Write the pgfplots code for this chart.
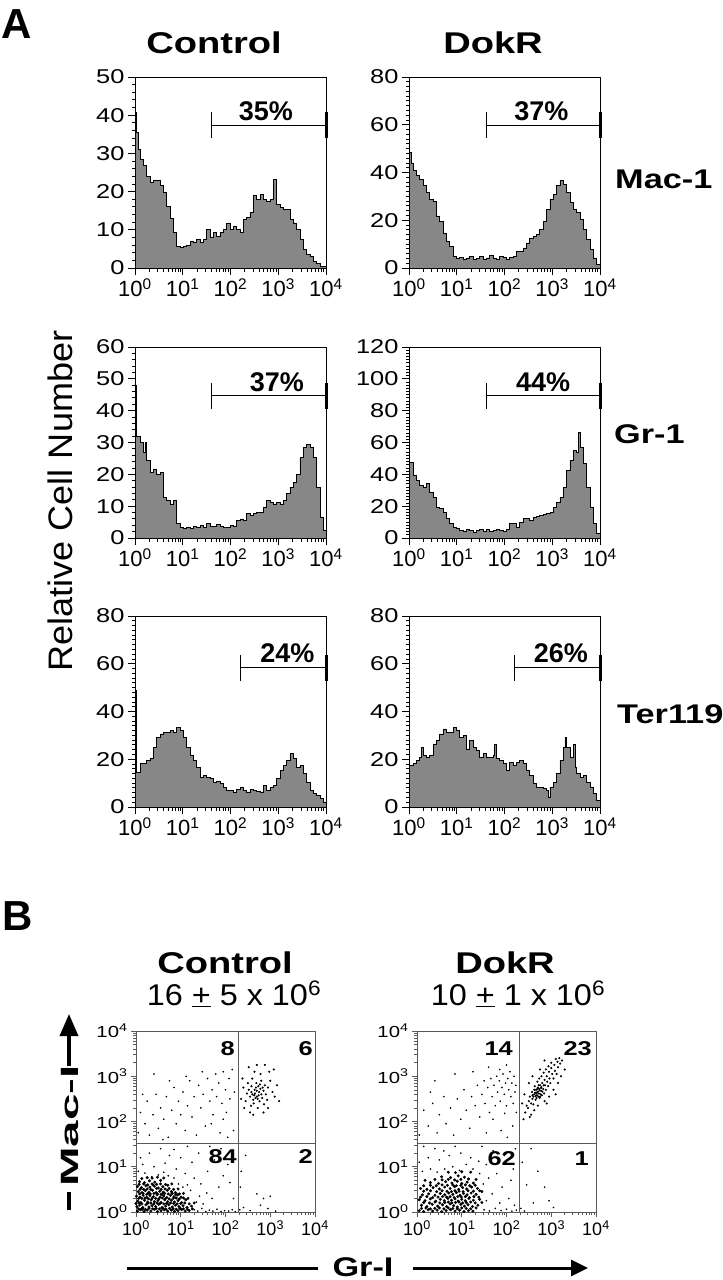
\documentclass[border=0pt]{standalone}
\usepackage{fontspec}
\setmainfont{Liberation Sans}
\newfontfamily\wf{Liberation Sans}[FakeStretch=1.27]
\usepackage{pgfplots}
\pgfplotsset{compat=1.18}
\usepackage{pgfplotstable}
\usetikzlibrary{arrows.meta}
\newcommand\fs[1]{\fontsize{#1}{#1}\selectfont}
\definecolor{histgray}{RGB}{135,135,135}
\definecolor{qgray}{RGB}{90,90,90}

% Control Mac-1
\pgfplotstableread[row sep=\\]{d n\\
0 40.8\\ 0.02 35.5\\ 0.07 31\\ 0.105 28.5\\ 0.175 26.8\\ 0.244 24\\ 0.314 22.4\\ 0.384 23\\ 0.454 23\\ 0.524 21.5\\
0.593 19.7\\ 0.663 16\\ 0.733 13\\ 0.803 9.2\\ 0.873 5.7\\ 0.942 5.3\\ 1.012 5.7\\ 1.082 6\\ 1.152 7\\ 1.222 6.6\\
1.291 7.5\\ 1.361 6.6\\ 1.431 7.5\\ 1.501 10\\ 1.571 7.9\\ 1.641 9.2\\ 1.710 8.3\\ 1.780 9.2\\ 1.850 10\\ 1.920 11.8\\
1.990 10\\ 2.059 11\\ 2.129 10\\ 2.199 9.2\\ 2.269 12.7\\ 2.339 13.2\\ 2.408 14.5\\ 2.478 18.9\\ 2.548 18\\ 2.618 19.3\\
2.688 18\\ 2.757 17.5\\ 2.827 18\\ 2.897 23.2\\ 2.967 16.7\\ 3.037 15.8\\ 3.106 15.4\\ 3.176 15.4\\ 3.246 12.7\\ 3.316 11.8\\
3.386 10\\ 3.455 7.5\\ 3.525 4.8\\ 3.595 3.5\\ 3.665 3\\ 3.735 1.8\\ 3.805 1.3\\ 3.874 0.4\\ 3.944 0.4\\ 4 0\\
}\CM
% DokR Mac-1
\pgfplotstableread[row sep=\\]{d n\\
0 66\\ 0.014 48.4\\ 0.049 44\\ 0.084 40.7\\ 0.154 38.6\\ 0.224 37.2\\ 0.294 34.4\\ 0.364 31.6\\ 0.434 28.8\\ 0.503 28\\
0.573 21.8\\ 0.643 19.6\\ 0.713 14.7\\ 0.783 11.2\\ 0.853 9.1\\ 0.923 4.9\\ 0.993 4.2\\ 1.063 4.5\\ 1.133 3.6\\ 1.203 4.2\\
1.273 5.0\\ 1.343 3.5\\ 1.413 4.0\\ 1.483 4.9\\ 1.552 3.8\\ 1.622 4.2\\ 1.692 5.2\\ 1.762 4.2\\ 1.832 3.6\\ 1.902 4.9\\
1.972 4.5\\ 2.042 3.8\\ 2.112 4.4\\ 2.182 4.9\\ 2.252 7\\ 2.322 7\\ 2.392 8.4\\ 2.462 10.5\\ 2.531 12.6\\ 2.601 13.3\\
2.671 14\\ 2.741 16.1\\ 2.811 19.6\\ 2.881 24.6\\ 2.951 28.8\\ 3.021 30.9\\ 3.091 34.4\\ 3.161 36.5\\ 3.231 35\\ 3.301 31.6\\
3.371 27.4\\ 3.441 24.6\\ 3.510 23.2\\ 3.580 20.4\\ 3.650 16.1\\ 3.720 11.9\\ 3.790 7.7\\ 3.860 4.2\\ 3.930 1.4\\ 4 0\\
}\DM
% Control Gr-1
\pgfplotstableread[row sep=\\]{d n\\
0 47.8\\ 0.035 32\\ 0.105 30\\ 0.175 27\\ 0.209 30\\ 0.244 24.3\\ 0.314 20.7\\ 0.384 21.7\\ 0.454 20.1\\ 0.524 20.7\\
0.593 12.8\\ 0.663 11.8\\ 0.733 10.7\\ 0.803 11.8\\ 0.873 4.5\\ 0.942 3.4\\ 1.012 2.9\\ 1.082 3.2\\ 1.152 2.9\\ 1.222 3.6\\
1.291 3.4\\ 1.361 3.9\\ 1.431 3.4\\ 1.501 4.7\\ 1.571 3.5\\ 1.641 3.7\\ 1.710 4.2\\ 1.780 3.7\\ 1.850 3.2\\ 1.920 3.4\\
1.990 4.0\\ 2.059 3.7\\ 2.129 5.5\\ 2.199 6\\ 2.269 5.4\\ 2.339 7.6\\ 2.408 7.2\\ 2.478 7.6\\ 2.548 7.9\\ 2.618 8.1\\
2.688 9.5\\ 2.757 11.8\\ 2.827 11.3\\ 2.897 10.7\\ 2.967 11.3\\ 3.037 10.7\\ 3.106 11.8\\ 3.176 13.9\\ 3.246 16\\ 3.316 17.5\\
3.386 20.1\\ 3.455 25.4\\ 3.525 28.5\\ 3.595 29.5\\ 3.665 28.5\\ 3.735 25.4\\ 3.805 16\\ 3.874 6.6\\ 3.944 2.4\\ 4 0\\
}\CG
% DokR Gr-1
\pgfplotstableread[row sep=\\]{d n\\
0 85\\ 0.014 47.6\\ 0.084 39.2\\ 0.154 36\\ 0.224 33\\ 0.294 32\\ 0.364 34\\ 0.434 28.8\\ 0.503 25.7\\ 0.573 19.4\\
0.643 18.4\\ 0.713 16.3\\ 0.783 12.1\\ 0.853 9\\ 0.923 6.9\\ 0.993 5.8\\ 1.063 4.8\\ 1.133 4.4\\ 1.203 5.2\\ 1.273 4.6\\
1.343 3.8\\ 1.413 4.5\\ 1.483 5.2\\ 1.552 4.4\\ 1.622 5.2\\ 1.692 4.1\\ 1.762 4.8\\ 1.832 5.3\\ 1.902 4.8\\ 1.972 4.2\\
2.042 5.6\\ 2.112 9\\ 2.182 9.4\\ 2.252 6.9\\ 2.322 10\\ 2.392 12.1\\ 2.462 12.1\\ 2.531 11\\ 2.601 13.2\\ 2.671 13.5\\
2.741 14.2\\ 2.811 14.6\\ 2.881 15.2\\ 2.951 16.3\\ 3.021 19.4\\ 3.091 22.5\\ 3.161 25.7\\ 3.231 32\\ 3.301 42.4\\ 3.371 48.6\\
3.441 54.9\\ 3.510 53.9\\ 3.545 66.4\\ 3.580 57\\ 3.650 46.6\\ 3.720 32\\ 3.790 19.4\\ 3.860 9\\ 3.930 2.7\\ 4 0\\
}\DG
% Control Ter119
\pgfplotstableread[row sep=\\]{d n\\
0 48.7\\ 0.035 14.6\\ 0.105 18.1\\ 0.175 18.1\\ 0.244 19.5\\ 0.314 20.2\\ 0.384 25\\ 0.454 29.2\\ 0.524 30.6\\ 0.593 31.3\\
0.663 31.3\\ 0.733 32\\ 0.803 31.3\\ 0.873 33.4\\ 0.942 32\\ 1.012 29.2\\ 1.082 25\\ 1.152 21.6\\ 1.222 19.5\\ 1.291 16.7\\
1.361 12.5\\ 1.431 13.2\\ 1.501 12.5\\ 1.571 11.8\\ 1.641 10.4\\ 1.710 10.8\\ 1.780 9.7\\ 1.850 8.2\\ 1.920 7\\ 1.990 6.8\\
2.059 6.3\\ 2.129 7.2\\ 2.199 8.3\\ 2.269 7.1\\ 2.339 6.3\\ 2.408 7.5\\ 2.478 7\\ 2.548 6.6\\ 2.618 6.3\\ 2.688 9\\
2.757 7\\ 2.827 8.2\\ 2.897 9\\ 2.967 11.8\\ 3.037 15.3\\ 3.106 17.4\\ 3.176 19.5\\ 3.246 22.3\\ 3.316 20.2\\ 3.386 16.7\\
3.455 17.4\\ 3.525 13.9\\ 3.595 10.4\\ 3.665 7\\ 3.735 5.6\\ 3.805 4.9\\ 3.874 3.5\\ 3.944 2.1\\ 4 0\\
}\CT
% DokR Ter119
\pgfplotstableread[row sep=\\]{d n\\
0 50\\ 0.014 17.4\\ 0.084 18.1\\ 0.154 19.5\\ 0.224 20.9\\ 0.259 25\\ 0.294 21.6\\ 0.364 20.9\\ 0.434 21.6\\ 0.503 26.4\\
0.573 27.8\\ 0.643 30.6\\ 0.713 32.7\\ 0.783 31.3\\ 0.853 31.3\\ 0.923 33.4\\ 0.993 32\\ 1.063 29.2\\ 1.133 29.9\\ 1.203 24.3\\
1.273 27.8\\ 1.343 25\\ 1.413 23.7\\ 1.483 20.9\\ 1.552 22.3\\ 1.622 20.9\\ 1.692 20.9\\ 1.762 21.6\\ 1.797 26.4\\ 1.832 20.2\\
1.902 19.5\\ 1.972 18.1\\ 2.042 15.3\\ 2.112 18.8\\ 2.182 17.4\\ 2.252 18.5\\ 2.322 19.5\\ 2.392 18.1\\ 2.462 15.3\\ 2.531 13.2\\
2.601 9.7\\ 2.671 8.3\\ 2.741 8.3\\ 2.811 7.7\\ 2.881 7\\ 2.916 4.2\\ 2.951 8.3\\ 3.021 10.4\\ 3.091 13.9\\ 3.161 19.5\\
3.231 25\\ 3.266 29.2\\ 3.301 25\\ 3.371 20.9\\ 3.441 26.4\\ 3.476 16.7\\ 3.510 13.9\\ 3.580 12.5\\ 3.650 13.2\\ 3.720 10.4\\
3.790 8.3\\ 3.860 5.6\\ 3.930 2.8\\ 4 0.7\\
}\DT

\pgfplotsset{
  logticks/.style={
    xmin=0, xmax=4, xtick={0,1,2,3,4},
    xticklabels={10\textsuperscript{0},10\textsuperscript{1},10\textsuperscript{2},10\textsuperscript{3},10\textsuperscript{4}},
    minor xtick={0.301,0.477,0.602,0.699,0.778,0.845,0.903,0.954,1.301,1.477,1.602,1.699,1.778,1.845,1.903,1.954,2.301,2.477,2.602,2.699,2.778,2.845,2.903,2.954,3.301,3.477,3.602,3.699,3.778,3.845,3.903,3.954},
  },
  hist/.style={
    logticks, scale only axis, width=191pt, height=191pt, ymin=0, clip=false,
    axis line style={black, line width=0.9pt},
    tick align=outside, tick pos=left,
    major tick length=7pt, minor tick length=3.5pt,
    every tick/.append style={black, line width=0.9pt},
    xticklabel style={font=\fs{22}},
    yticklabel style={font=\wf\fs{20}},
    /pgf/number format/assume math mode=true,
  },
  hfill/.style={const plot, fill=histgray, draw=black, line width=0.8pt},
  scat/.style={
    logticks, scale only axis, width=179pt, height=181pt, ymin=0, ymax=4, clip=false,
    ytick={0,1,2,3,4},
    yticklabels={10\textsuperscript{0},10\textsuperscript{1},10\textsuperscript{2},10\textsuperscript{3},10\textsuperscript{4}},
    minor ytick={0.301,0.477,0.602,0.699,0.778,0.845,0.903,0.954,1.301,1.477,1.602,1.699,1.778,1.845,1.903,1.954,2.301,2.477,2.602,2.699,2.778,2.845,2.903,2.954,3.301,3.477,3.602,3.699,3.778,3.845,3.903,3.954},
    axis line style={qgray, line width=0.8pt},
    tick align=outside, tick pos=left,
    major tick length=5pt, minor tick length=3pt,
    every tick/.append style={qgray, line width=0.7pt},
    xticklabel style={font=\fs{18}},
    yticklabel style={font=\wf\fs{16}},
  },
  dots/.style={only marks, mark=*, mark size=0.6pt, black},
  middots/.style={only marks, mark=*, mark size=0.85pt, black},
  bigdots/.style={only marks, mark=*, mark size=1.3pt, black},
}
\newcommand\gate[2]{%
  \draw[line width=1pt] (axis cs:#1,#2) -- (axis cs:4,#2);
  \draw[line width=1pt] ([yshift=-13pt]axis cs:#1,#2) -- ([yshift=13pt]axis cs:#1,#2);
  \draw[line width=3pt] ([yshift=-13pt]axis cs:4,#2) -- ([yshift=13pt]axis cs:4,#2);
}

\begin{document}
\begin{tikzpicture}
\path[use as bounding box] (0pt,0pt) rectangle (723pt,-1280pt);

% ---------------- Panel A ----------------
\begin{axis}[hist, at={(135pt,-268pt)}, anchor=south west, ymax=50, ytick={0,10,20,30,40,50}, minor y tick num=4]
\addplot[hfill] table[x=d,y=n] {\CM} \closedcycle;
\gate{1.61}{37.4}
\node[anchor=south, font=\bfseries\fs{27}, inner sep=0] at ([yshift=4pt]axis cs:2.74,37.4) {35\%};
\end{axis}
\begin{axis}[hist, at={(409pt,-268pt)}, anchor=south west, ymax=80, ytick={0,20,40,60,80}, minor y tick num=9]
\addplot[hfill] table[x=d,y=n] {\DM} \closedcycle;
\gate{1.63}{59.8}
\node[anchor=south, font=\bfseries\fs{27}, inner sep=0] at ([yshift=4pt]axis cs:2.77,59.8) {37\%};
\end{axis}

\begin{axis}[hist, at={(135pt,-538pt)}, anchor=south west, ymax=60, ytick={0,10,20,30,40,50,60}, minor y tick num=4]
\addplot[hfill] table[x=d,y=n] {\CG} \closedcycle;
\gate{1.61}{44.7}
\node[anchor=south, font=\bfseries\fs{27}, inner sep=0] at ([yshift=4pt]axis cs:2.97,44.7) {37\%};
\end{axis}
\begin{axis}[hist, at={(409pt,-538pt)}, anchor=south west, ymax=120, ytick={0,20,40,60,80,100,120}, minor y tick num=9]
\addplot[hfill] table[x=d,y=n] {\DG} \closedcycle;
\gate{1.63}{89.4}
\node[anchor=south, font=\bfseries\fs{27}, inner sep=0] at ([yshift=4pt]axis cs:2.81,89.4) {44\%};
\end{axis}

\begin{axis}[hist, at={(135pt,-807pt)}, anchor=south west, ymax=80, ytick={0,20,40,60,80}, minor y tick num=9]
\addplot[hfill] table[x=d,y=n] {\CT} \closedcycle;
\gate{2.2}{58.3}
\node[anchor=south, font=\bfseries\fs{27}, inner sep=0] at ([yshift=5pt]axis cs:3.19,58.3) {24\%};
\end{axis}
\begin{axis}[hist, at={(409pt,-807pt)}, anchor=south west, ymax=80, ytick={0,20,40,60,80}, minor y tick num=9]
\addplot[hfill] table[x=d,y=n] {\DT} \closedcycle;
\gate{2.2}{58.3}
\node[anchor=south, font=\bfseries\fs{27}, inner sep=0] at ([yshift=5pt]axis cs:3.18,58.3) {26\%};
\end{axis}

\node[anchor=base west, inner sep=0, font=\bfseries\fs{42}] at (1pt,-38pt) {A};
\node[anchor=base, inner sep=0, font=\wf\bfseries\fs{30}] at (214pt,-53pt) {Control};
\node[anchor=base, inner sep=0, font=\wf\bfseries\fs{30}] at (493pt,-53pt) {DokR};
\node[anchor=base west, inner sep=0, font=\wf\bfseries\fs{27}] at (615pt,-188pt) {Mac-1};
\node[anchor=base west, inner sep=0, font=\wf\bfseries\fs{27}] at (614pt,-443pt) {Gr-1};
\node[anchor=base west, inner sep=0, font=\wf\bfseries\fs{27}] at (617pt,-723pt) {Ter119};
\node[anchor=base, inner sep=0, rotate=90, font=\fs{34}] at (72pt,-501pt) {\scalebox{1.06}[1]{Relative Cell Number}};

% ---------------- Panel B ----------------
\begin{axis}[scat, at={(136pt,-1212pt)}, anchor=south west]
\addplot[bigdots] table[row sep=\\] {x y\\
0.03 0.02\\ 0.10 0.05\\ 0.18 0.01\\ 0.25 0.04\\ 0.33 0.02\\ 0.41 0.06\\ 0.48 0.01\\ 0.56 0.03\\ 0.63 0.05\\ 0.71 0.02\\ 0.79 0.04\\ 0.86 0.01\\ 0.94 0.03\\ 1.02 0.05\\ 1.10 0.02\\ 1.19 0.03\\
0.02 0.12\\ 0.08 0.15\\ 0.15 0.10\\ 0.22 0.16\\ 0.29 0.11\\ 0.36 0.14\\ 0.44 0.12\\ 0.51 0.17\\ 0.58 0.10\\ 0.66 0.13\\ 0.73 0.16\\ 0.81 0.11\\ 0.88 0.15\\ 0.96 0.12\\ 1.05 0.14\\ 1.14 0.10\\ 1.24 0.13\\
0.04 0.24\\ 0.11 0.21\\ 0.19 0.26\\ 0.26 0.22\\ 0.34 0.27\\ 0.41 0.23\\ 0.49 0.25\\ 0.56 0.21\\ 0.64 0.27\\ 0.71 0.23\\ 0.79 0.26\\ 0.86 0.22\\ 0.94 0.25\\ 1.02 0.21\\ 1.11 0.27\\
0.01 0.35\\ 0.09 0.33\\ 0.16 0.37\\ 0.24 0.32\\ 0.31 0.36\\ 0.39 0.34\\ 0.47 0.38\\ 0.54 0.33\\ 0.62 0.36\\ 0.69 0.32\\ 0.77 0.37\\ 0.85 0.34\\ 0.93 0.38\\ 1.01 0.33\\
0.05 0.45\\ 0.13 0.43\\ 0.21 0.47\\ 0.29 0.44\\ 0.37 0.48\\ 0.45 0.43\\ 0.53 0.46\\ 0.61 0.44\\ 0.70 0.48\\ 0.79 0.45\\ 0.88 0.43\\
0.03 0.56\\ 0.12 0.54\\ 0.22 0.58\\ 0.31 0.55\\ 0.41 0.57\\ 0.50 0.53\\ 0.60 0.56\\ 0.71 0.59\\
0.08 0.67\\ 0.19 0.65\\ 0.30 0.69\\ 0.42 0.66\\ 0.55 0.70\\
0.06 0.30\\ 0.14 0.06\\ 0.45 0.08\\ 0.68 0.19\\ 0.27 0.41\\ 0.58 0.40\\ 0.83 0.30\\ 0.17 0.50\\ 0.99 0.08\\ 0.38 0.60\\
0.06 0.07\\ 0.14 0.08\\ 0.21 0.06\\ 0.29 0.08\\ 0.37 0.07\\ 0.52 0.07\\ 0.60 0.08\\ 0.67 0.06\\ 0.75 0.08\\ 0.83 0.07\\ 0.90 0.06\\ 0.98 0.08\\ 1.06 0.07\\ 1.15 0.06\\ 1.26 0.07\\
0.00 0.19\\ 0.07 0.20\\ 0.13 0.18\\ 0.26 0.19\\ 0.33 0.20\\ 0.40 0.18\\ 0.47 0.20\\ 0.54 0.19\\ 0.62 0.18\\ 0.77 0.20\\ 0.84 0.19\\ 0.92 0.18\\ 1.00 0.19\\ 1.09 0.20\\ 1.19 0.18\\ 1.30 0.20\\
0.13 0.30\\ 0.20 0.31\\ 0.28 0.29\\ 0.36 0.31\\ 0.44 0.30\\ 0.51 0.29\\ 0.59 0.31\\ 0.66 0.30\\ 0.74 0.29\\ 0.90 0.31\\ 0.97 0.29\\ 1.06 0.31\\ 1.16 0.30\\
0.08 0.40\\ 0.16 0.41\\ 0.24 0.39\\ 0.32 0.40\\ 0.40 0.41\\ 0.48 0.40\\ 0.56 0.39\\ 0.64 0.41\\ 0.72 0.40\\ 0.81 0.41\\ 0.89 0.39\\ 0.97 0.40\\ 1.06 0.41\\
0.09 0.50\\ 0.25 0.51\\ 0.33 0.50\\ 0.46 0.52\\ 0.56 0.50\\ 0.65 0.51\\ 0.74 0.52\\ 0.84 0.50\\ 0.94 0.51\\
0.07 0.61\\ 0.17 0.62\\ 0.26 0.60\\ 0.36 0.62\\ 0.46 0.61\\ 0.55 0.62\\ 0.66 0.61\\ 0.80 0.62\\
0.13 0.74\\ 0.25 0.76\\ 0.36 0.75\\ 0.48 0.77\\ 0.62 0.75\\
};
\addplot[dots] table[row sep=\\] {x y\\
1.30 0.05\\ 1.38 0.02\\ 1.47 0.08\\ 1.56 0.01\\ 1.64 0.04\\ 1.72 0.02\\ 1.81 0.06\\ 1.90 0.01\\ 1.98 0.03\\ 2.07 0.02\\ 2.15 0.05\\ 2.22 0.01\\
1.35 0.22\\ 1.42 0.35\\ 1.50 0.18\\ 1.58 0.42\\ 1.22 0.48\\ 1.15 0.60\\ 1.05 0.55\\ 0.95 0.62\\ 0.85 0.75\\ 0.72 0.80\\ 0.62 0.88\\ 0.50 0.82\\ 0.35 0.78\\ 0.20 0.86\\ 0.05 0.90\\ 0.15 1.05\\ 0.40 1.00\\ 0.65 1.08\\ 0.90 0.95\\ 1.10 0.85\\ 1.30 0.75\\ 1.45 0.62\\ 1.70 0.30\\ 1.85 0.55\\ 1.95 0.80\\ 2.10 0.65\\ 1.60 0.90\\ 1.25 1.10\\ 1.00 1.20\\ 0.75 1.25\\ 0.30 1.30\\ 0.55 1.40\\ 1.40 1.30\\ 1.75 1.15\\ 2.05 1.05\\ 1.90 1.40\\ 1.15 1.45\\ 0.10 1.20\\ 2.18 0.30\\ 1.65 1.45\\ 0.85 1.38\\
0.05 1.75\\ 0.10 2.20\\ 0.20 1.95\\ 0.25 2.45\\ 0.30 1.70\\ 0.38 2.15\\ 0.45 2.60\\ 0.50 1.85\\ 0.55 2.30\\ 0.62 2.05\\ 0.68 2.55\\ 0.72 1.65\\ 0.80 2.25\\ 0.85 2.75\\ 0.90 1.95\\ 0.95 2.45\\ 1.00 2.15\\ 1.05 2.65\\ 1.10 1.80\\ 1.15 2.35\\ 1.20 2.90\\ 1.25 2.10\\ 1.30 2.55\\ 1.35 1.70\\ 1.40 2.80\\ 1.45 2.30\\ 1.50 2.60\\ 1.55 1.90\\ 1.60 2.95\\ 1.65 2.45\\ 1.70 2.70\\ 1.72 2.15\\ 1.78 3.05\\ 1.80 2.55\\ 1.85 2.85\\ 1.88 1.75\\ 1.92 2.40\\ 1.95 3.10\\ 2.00 2.70\\ 2.02 2.20\\ 2.08 2.95\\ 2.10 2.50\\ 2.15 3.15\\ 2.18 1.80\\ 2.20 2.65\\ 0.15 2.60\\ 0.40 3.05\\ 0.75 2.90\\ 1.12 3.00\\ 1.48 3.10\\ 1.68 1.95\\ 2.05 1.65\\ 0.60 1.60\\ 1.95 2.05\\
2.32 0.05\\ 2.40 0.10\\ 2.55 0.03\\ 2.70 0.40\\ 2.85 0.30\\ 3.00 0.35\\ 2.35 0.90\\ 2.45 1.25\\ 2.78 0.15\\ 2.95 0.08\\ 2.33 0.55\\ 3.12 0.02\\
};
\addplot[middots] table[row sep=\\] {x y\\
2.60 2.60\\ 2.65 2.70\\ 2.70 2.55\\ 2.75 2.65\\ 2.80 2.60\\ 2.68 2.75\\ 2.72 2.50\\ 2.78 2.72\\ 2.62 2.48\\ 2.85 2.68\\ 2.58 2.78\\ 2.66 2.62\\ 2.74 2.58\\ 2.70 2.68\\ 2.82 2.52\\ 2.55 2.55\\ 2.88 2.80\\ 2.63 2.40\\ 2.76 2.45\\ 2.52 2.70\\ 2.90 2.60\\ 2.69 2.85\\ 2.80 2.90\\ 2.57 2.35\\ 2.95 2.75\\ 2.48 2.62\\ 2.60 2.95\\ 2.86 2.38\\ 2.72 2.30\\ 2.45 2.45\\ 3.00 2.90\\ 2.93 2.48\\ 2.50 2.85\\ 2.40 2.75\\ 2.78 3.05\\ 2.65 3.10\\ 3.05 2.65\\ 2.55 2.20\\ 2.85 2.20\\ 2.42 2.30\\ 2.98 3.10\\ 2.70 3.25\\ 3.10 2.55\\ 2.38 2.95\\ 3.15 2.80\\ 2.88 3.25\\ 2.35 2.50\\ 2.62 2.15\\ 3.20 2.45\\ 2.52 3.20\\ 3.08 3.15\\ 2.95 2.30\\ 2.77 2.82\\ 2.67 2.52\\ 2.83 2.75\\ 2.58 2.65\\ 2.73 2.78\\ 2.64 2.58\\
};
\draw[qgray, line width=0.8pt] (axis cs:2.28,0) -- (axis cs:2.28,4);
\draw[qgray, line width=0.8pt] (axis cs:0,1.52) -- (axis cs:4,1.52);
\draw[qgray, line width=0.8pt] (axis cs:0,4) -- (axis cs:4,4) -- (axis cs:4,0);
\end{axis}

\begin{axis}[scat, at={(417pt,-1212pt)}, anchor=south west]
\addplot[bigdots] table[row sep=\\] {x y\\
0.05 0.03\\ 0.15 0.01\\ 0.25 0.05\\ 0.35 0.02\\ 0.45 0.04\\ 0.55 0.01\\ 0.65 0.03\\ 0.75 0.05\\ 0.85 0.02\\ 0.95 0.04\\ 1.05 0.01\\ 1.15 0.03\\ 1.25 0.02\\
0.10 0.15\\ 0.22 0.12\\ 0.34 0.17\\ 0.46 0.13\\ 0.57 0.16\\ 0.66 0.12\\ 0.74 0.18\\ 0.82 0.14\\ 0.90 0.11\\ 0.98 0.17\\ 1.06 0.13\\ 1.14 0.16\\ 1.24 0.12\\ 1.36 0.15\\
0.05 0.27\\ 0.18 0.25\\ 0.30 0.29\\ 0.42 0.24\\ 0.52 0.28\\ 0.61 0.25\\ 0.69 0.30\\ 0.77 0.26\\ 0.85 0.29\\ 0.92 0.24\\ 1.00 0.28\\ 1.08 0.25\\ 1.16 0.30\\ 1.26 0.26\\ 1.40 0.28\\
0.12 0.38\\ 0.26 0.40\\ 0.40 0.37\\ 0.52 0.41\\ 0.62 0.38\\ 0.71 0.42\\ 0.80 0.39\\ 0.88 0.43\\ 0.96 0.37\\ 1.04 0.41\\ 1.12 0.38\\ 1.21 0.42\\ 1.32 0.39\\
0.08 0.52\\ 0.22 0.50\\ 0.36 0.54\\ 0.50 0.51\\ 0.62 0.55\\ 0.74 0.52\\ 0.84 0.56\\ 0.93 0.50\\ 1.02 0.54\\ 1.11 0.51\\ 1.22 0.55\\ 1.35 0.52\\
0.30 0.65\\ 0.48 0.63\\ 0.64 0.67\\ 0.78 0.64\\ 0.90 0.68\\ 1.00 0.63\\ 1.12 0.66\\ 1.26 0.64\\
0.55 0.78\\ 0.75 0.76\\ 0.92 0.80\\ 1.06 0.77\\ 0.18 0.70\\ 1.45 0.45\\
0.10 0.08\\ 0.20 0.09\\ 0.30 0.07\\ 0.40 0.08\\ 0.50 0.09\\ 0.60 0.07\\ 0.70 0.09\\ 0.80 0.08\\ 0.90 0.07\\ 1.00 0.09\\ 1.10 0.08\\ 1.20 0.07\\ 1.32 0.09\\
0.15 0.21\\ 0.28 0.20\\ 0.40 0.22\\ 0.51 0.20\\ 0.62 0.21\\ 0.70 0.22\\ 0.78 0.20\\ 0.86 0.21\\ 0.94 0.22\\ 1.02 0.20\\ 1.10 0.21\\ 1.20 0.22\\ 1.30 0.20\\ 1.45 0.21\\
0.08 0.33\\ 0.22 0.34\\ 0.35 0.32\\ 0.47 0.33\\ 0.57 0.34\\ 0.66 0.33\\ 0.74 0.34\\ 0.83 0.32\\ 0.91 0.34\\ 0.99 0.33\\ 1.08 0.34\\ 1.17 0.32\\ 1.27 0.34\\ 1.38 0.33\\
0.15 0.46\\ 0.30 0.47\\ 0.44 0.45\\ 0.56 0.47\\ 0.67 0.46\\ 0.77 0.45\\ 0.85 0.47\\ 0.94 0.46\\ 1.03 0.45\\ 1.14 0.47\\ 1.26 0.46\\ 1.40 0.47\\
0.15 0.58\\ 0.30 0.59\\ 0.43 0.58\\ 0.56 0.60\\ 0.68 0.59\\ 0.80 0.60\\ 0.88 0.58\\ 0.98 0.59\\ 1.08 0.60\\ 1.18 0.58\\ 1.30 0.59\\
0.40 0.72\\ 0.56 0.71\\ 0.70 0.72\\ 0.84 0.71\\ 0.98 0.72\\ 1.15 0.73\\ 1.32 0.72\\
0.70 0.88\\ 0.86 0.87\\ 1.00 0.89\\ 1.20 0.88\\
};
\addplot[dots] table[row sep=\\] {x y\\
1.50 0.05\\ 1.62 0.02\\ 1.75 0.08\\ 1.88 0.03\\ 2.00 0.06\\ 2.12 0.02\\ 2.22 0.04\\ 1.55 0.25\\ 1.68 0.40\\ 1.48 0.62\\ 1.60 0.75\\ 1.40 0.85\\ 1.25 0.95\\ 1.10 1.05\\ 0.95 0.92\\ 0.80 1.00\\ 0.62 0.95\\ 0.45 0.88\\ 0.30 0.95\\ 0.12 0.90\\ 0.05 1.10\\ 0.25 1.20\\ 0.50 1.15\\ 0.72 1.25\\ 0.98 1.30\\ 1.20 1.20\\ 1.38 1.12\\ 1.55 1.05\\ 1.78 0.85\\ 1.90 0.55\\ 2.05 0.30\\ 2.15 0.95\\ 1.95 1.25\\ 1.70 1.35\\ 1.45 1.45\\ 0.85 1.45\\ 0.40 1.40\\ 2.20 1.40\\ 2.10 0.70\\ 1.82 1.10\\ 0.15 1.45\\ 1.30 0.60\\ 1.85 0.20\\ 2.18 0.15\\ 0.60 1.35\\
0.05 1.70\\ 0.15 2.25\\ 0.25 1.90\\ 0.35 2.40\\ 0.45 1.75\\ 0.50 2.15\\ 0.60 2.55\\ 0.65 1.95\\ 0.75 2.30\\ 0.82 1.70\\ 0.90 2.50\\ 0.98 2.05\\ 1.05 2.70\\ 1.10 2.25\\ 1.18 1.85\\ 1.22 2.55\\ 1.30 2.35\\ 1.35 2.80\\ 1.40 2.10\\ 1.45 2.60\\ 1.50 2.90\\ 1.52 2.40\\ 1.58 2.75\\ 1.62 2.20\\ 1.65 2.95\\ 1.68 2.55\\ 1.72 2.80\\ 1.75 2.35\\ 1.78 3.00\\ 1.80 2.65\\ 1.84 2.90\\ 1.86 2.45\\ 1.90 2.75\\ 1.92 3.05\\ 1.95 2.60\\ 1.98 2.85\\ 2.00 2.35\\ 2.03 2.95\\ 2.05 2.70\\ 2.08 3.10\\ 2.10 2.55\\ 2.12 2.85\\ 2.15 2.40\\ 2.17 3.00\\ 2.19 2.65\\ 2.21 2.80\\ 2.22 2.20\\ 1.88 1.80\\ 2.02 1.65\\ 1.55 1.75\\ 0.40 2.90\\ 0.85 3.05\\ 1.25 3.10\\ 1.60 3.20\\ 2.00 3.25\\ 1.70 2.05\\ 0.30 2.65\\ 2.14 1.90\\ 1.96 2.18\\ 1.85 3.15\\
2.32 0.08\\ 2.40 0.02\\ 2.55 1.40\\ 2.70 0.90\\ 2.85 0.55\\ 2.45 0.60\\ 2.95 0.25\\ 2.60 0.20\\ 3.05 0.10\\ 2.35 1.10\\
};
\addplot[middots] table[row sep=\\] {x y\\
2.45 2.35\\ 2.50 2.45\\ 2.48 2.30\\ 2.55 2.40\\ 2.52 2.55\\ 2.58 2.50\\ 2.60 2.38\\ 2.62 2.60\\ 2.57 2.65\\ 2.65 2.48\\ 2.66 2.70\\ 2.68 2.58\\ 2.70 2.75\\ 2.72 2.62\\ 2.63 2.78\\ 2.74 2.52\\ 2.75 2.80\\ 2.77 2.68\\ 2.69 2.88\\ 2.79 2.58\\ 2.80 2.85\\ 2.82 2.72\\ 2.73 2.95\\ 2.84 2.62\\ 2.85 2.92\\ 2.86 2.80\\ 2.78 3.00\\ 2.88 2.70\\ 2.90 3.00\\ 2.91 2.88\\ 2.83 3.08\\ 2.93 2.78\\ 2.95 3.10\\ 2.96 2.95\\ 2.88 3.15\\ 2.98 2.85\\ 3.00 3.18\\ 3.02 3.05\\ 2.94 3.22\\ 3.05 2.95\\ 3.07 3.25\\ 3.08 3.12\\ 3.00 3.30\\ 3.12 3.05\\ 3.14 3.32\\ 3.15 3.20\\ 3.18 3.40\\ 3.20 3.28\\ 3.10 3.38\\ 3.24 3.35\\
2.60 2.55\\ 2.64 2.64\\ 2.67 2.52\\ 2.70 2.66\\ 2.73 2.72\\ 2.76 2.60\\ 2.71 2.55\\ 2.66 2.62\\ 2.74 2.69\\ 2.78 2.76\\ 2.69 2.72\\ 2.62 2.70\\ 2.80 2.66\\ 2.75 2.55\\ 2.65 2.56\\ 2.72 2.80\\ 2.68 2.64\\ 2.77 2.74\\ 2.83 2.80\\ 2.58 2.58\\
2.40 2.60\\ 2.42 2.20\\ 2.55 2.15\\ 2.70 2.35\\ 2.85 2.45\\ 2.95 2.55\\ 3.05 2.70\\ 3.15 2.85\\ 2.50 2.85\\ 2.58 3.00\\ 2.62 2.25\\ 2.90 2.40\\ 3.22 3.00\\ 2.35 2.40\\ 2.75 3.15\\ 2.85 3.35\\ 3.30 3.15\\ 2.38 2.05\\ 2.52 2.10\\ 3.10 2.60\\
};
\draw[qgray, line width=0.8pt] (axis cs:2.29,0) -- (axis cs:2.29,4);
\draw[qgray, line width=0.8pt] (axis cs:0,1.52) -- (axis cs:4,1.52);
\draw[qgray, line width=0.8pt] (axis cs:0,4) -- (axis cs:4,4) -- (axis cs:4,0);
\end{axis}

\node[anchor=base west, inner sep=0, font=\bfseries\fs{42}] at (2pt,-930pt) {B};
\node[anchor=base, inner sep=0, font=\wf\bfseries\fs{30}] at (225pt,-973pt) {Control};
\node[anchor=base, inner sep=0, font=\wf\bfseries\fs{30}] at (505pt,-973pt) {DokR};
\node[anchor=base, inner sep=0, font=\fs{30}] at (234pt,-1005pt) {\scalebox{1.08}[1]{16 \underline{+} 5 x 10\textsuperscript{6}}};
\node[anchor=base, inner sep=0, font=\fs{30}] at (518pt,-1005pt) {\scalebox{1.08}[1]{10 \underline{+} 1 x 10\textsuperscript{6}}};
\begin{scope}[every node/.style={anchor=base east, inner sep=0, font=\wf\bfseries\fs{20}}]
\node at (235pt,-1055pt) {8};
\node at (313pt,-1055pt) {6};
\node at (237pt,-1163pt) {84};
\node at (313pt,-1163pt) {2};
\node at (513pt,-1055pt) {14};
\node at (592pt,-1055pt) {23};
\node at (516pt,-1165pt) {62};
\node at (589pt,-1165pt) {1};
\end{scope}
% Mac-I axis title with arrow
\draw[line width=3.5pt] (69pt,-1210pt) -- (69pt,-1192pt);
\node[anchor=base, inner sep=0, rotate=90, font=\bfseries\fs{25}] at (78pt,-1126pt) {\scalebox{1.9}[1]{Mac-I}};
\draw[line width=3.5pt, -{Triangle[length=22pt,width=18pt]}] (69pt,-1066pt) -- (69pt,-1014pt);
% Gr-I axis title with arrow
\draw[line width=3pt] (127pt,-1268pt) -- (318pt,-1268pt);
\node[anchor=base, inner sep=0, font=\wf\bfseries\fs{27}] at (363pt,-1276pt) {Gr-I};
\draw[line width=3pt, -{Triangle[length=17pt,width=16pt]}] (413pt,-1268pt) -- (588pt,-1268pt);
\end{tikzpicture}
\end{document}
